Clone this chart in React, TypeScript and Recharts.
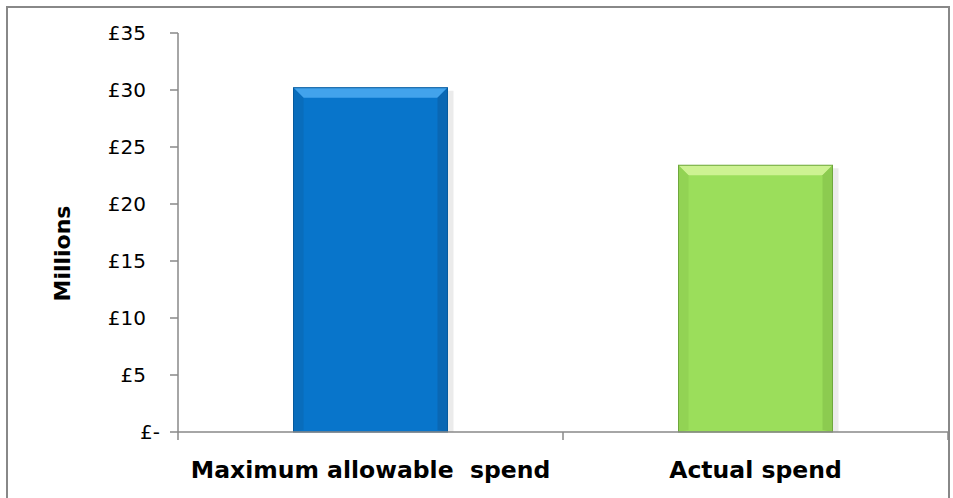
import React from 'react'
import { BarChart, Bar, XAxis, YAxis, Cell, Label } from 'recharts'

const categories = ['Maximum allowable  spend', 'Actual spend']
const spendMillions = [30.2, 23.4]
const yTicks = [0, 5, 10, 15, 20, 25, 30, 35]

const data = categories.map((name, i) => ({ name, value: spendMillions[i] }))

const PALETTE = [
  { main: '#0875CB', light: '#42A3EC', dark: '#055A9E', side: '#0A67B3' },
  { main: '#9BDE5B', light: '#CDF292', dark: '#6FA73D', side: '#8CCB50' },
]

const AXIS = '#888888'
const FONT = 'DejaVu Sans, Verdana, sans-serif'
const W = 953
const H = 498
const PLOT_LEFT = 178
const PLOT_RIGHT = 948
const PLOT_BOTTOM = 432
const X_AXIS_H = 60
const BAND = (PLOT_RIGHT - PLOT_LEFT) / categories.length

function BevelBar(props: any) {
  const { x, y, width, height, index } = props
  const c = PALETTE[index % PALETTE.length]
  const b = 10
  return (
    <g>
      <rect x={x + 3} y={y + 3} width={width + 3} height={height - 3} fill="#000" opacity={0.08} />
      <rect x={x} y={y} width={width} height={height} fill={c.main} />
      <polygon points={`${x},${y} ${x + width},${y} ${x + width - b},${y + b} ${x + b},${y + b}`} fill={c.light} />
      <polygon points={`${x + width},${y} ${x + width},${y + height} ${x + width - b},${y + height - 2} ${x + width - b},${y + b}`} fill={c.side} />
      <polygon points={`${x},${y} ${x + b},${y + b} ${x + b},${y + height - 2} ${x},${y + height}`} fill={c.side} opacity={0.6} />
      <rect x={x} y={y} width={width} height={height} fill="none" stroke={c.dark} strokeWidth={1} />
    </g>
  )
}

function XTick(props: any) {
  const { x, y, payload, index } = props
  const half = BAND / 2
  return (
    <g>
      {index === 0 && <line x1={x - half} y1={y - 8} x2={x - half} y2={y} stroke={AXIS} strokeWidth={1.5} />}
      <line x1={x + half} y1={y - 8} x2={x + half} y2={y} stroke={AXIS} strokeWidth={1.5} />
      <text x={x} y={y + 38} textAnchor="middle" fontFamily={FONT} fontWeight="bold" fontSize={23.5} fill="#000" style={{ whiteSpace: 'pre' }}>
        {payload.value}
      </text>
    </g>
  )
}

function YTick(props: any) {
  const { x, y, payload } = props
  const v = payload.value
  return (
    <text x={v === 0 ? x + 14 : x} y={y} dy={7} textAnchor="end" fontFamily={FONT} fontSize={20} fill="#000">
      {v === 0 ? '£-' : `£${v}`}
    </text>
  )
}

function YTitle(props: any) {
  const { viewBox } = props
  const cx = viewBox.x - 16
  const cy = viewBox.y + viewBox.height / 2 + 21
  return (
    <text x={cx} y={cy} transform={`rotate(-90, ${cx}, ${cy})`} textAnchor="middle" dominantBaseline="central" fontFamily={FONT} fontWeight="bold" fontSize={22} fill="#000">
      Millions
    </text>
  )
}

export default function App() {
  return (
    <div style={{ position: 'absolute', left: 0, top: 0, width: W, height: H, background: '#fff', overflow: 'hidden' }}>
      <div style={{ position: 'absolute', left: 6, top: 6, width: W - 13, height: H + 10, border: `2px solid ${AXIS}` }} />
      <div style={{ position: 'absolute', left: 0, top: 0 }}>
        <BarChart
          width={W}
          height={H}
          data={data}
          margin={{ top: 33, right: W - PLOT_RIGHT, bottom: H - PLOT_BOTTOM - X_AXIS_H, left: 78 }}
          barCategoryGap="30%"
        >
          <XAxis
            dataKey="name"
            height={X_AXIS_H}
            axisLine={{ stroke: AXIS, strokeWidth: 1.5 }}
            tickLine={false}
            tick={<XTick />}
            interval={0}
          />
          <YAxis
            width={PLOT_LEFT - 78}
            domain={[0, 35]}
            ticks={yTicks}
            axisLine={{ stroke: AXIS, strokeWidth: 1.5 }}
            tickLine={{ stroke: AXIS, strokeWidth: 1.5 }}
            tickSize={8}
            tickMargin={24}
            tick={<YTick />}
          >
            <Label content={<YTitle />} />
          </YAxis>
          <Bar dataKey="value" shape={<BevelBar />} isAnimationActive={false}>
            {data.map((d, i) => (
              <Cell key={d.name} fill={PALETTE[i].main} />
            ))}
          </Bar>
        </BarChart>
      </div>
    </div>
  )
}
